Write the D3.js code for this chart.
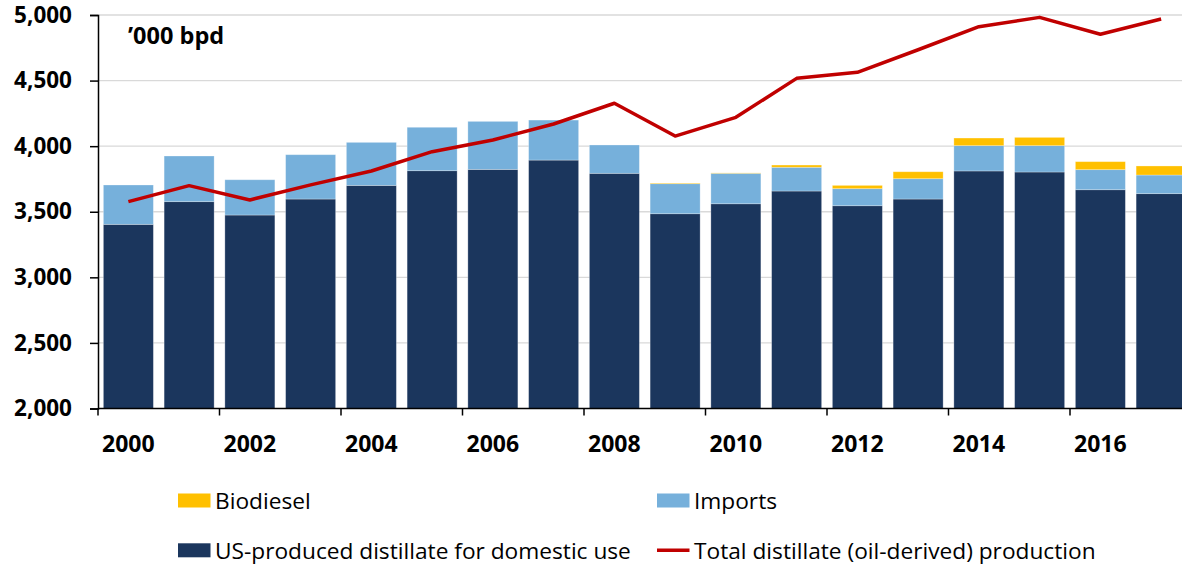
<!DOCTYPE html>
<html>
<head>
<meta charset="utf-8">
<script src="https://cdn.jsdelivr.net/npm/d3@7"></script>
<style>
  body { margin: 0; background: #fff; }
  text { font-family: "Open Sans", "Noto Sans", sans-serif; }
</style>
</head>
<body>
<div id="chart"></div>
<script>
// data, '000 bpd
const years = ["2000","2001","2002","2003","2004","2005","2006","2007","2008",
               "2009","2010","2011","2012","2013","2014","2015","2016","2017"];
const usProduced = [3404,3577,3475,3597,3701,3813,3823,3894,3793,3485,3561,3658,3546,3597,3811,3803,3668,3638];
const imports    = [300,348,269,338,328,331,366,305,216,229,232,181,130,155,193,201,153,142];
const biodiesel  = [0,0,0,0,0,0,0,0,0,5,3,17,25,53,58,63,61,69];
const totalProd  = [3577,3699,3590,3705,3811,3958,4047,4169,4327,4077,4220,4517,4563,4735,4911,4982,4853,4969];
const yTicks = [2000,2500,3000,3500,4000,4500,5000];

const series = [
  {key: "us", label: "US-produced distillate for domestic use", values: usProduced, color: "#1b365d"},
  {key: "imp", label: "Imports", values: imports, color: "#76b0db"},
  {key: "bio", label: "Biodiesel", values: biodiesel, color: "#ffc000"}
];

const width = 1182, height = 565;
const mLeft = 98, mTop = 15, mBottom = 408.5;
const plotRight = mLeft + 18 * 60.75;

const svg = d3.select("#chart").append("svg")
  .attr("width", width).attr("height", height);

const x = d3.scaleBand().domain(years).range([mLeft, plotRight])
  .paddingInner(0.177).paddingOuter(0.0885);
const y = d3.scaleLinear().domain([2000, 5000]).range([mBottom, mTop]);

// grid
svg.append("g").selectAll("line").data(yTicks.slice(1)).enter().append("line")
  .attr("x1", mLeft).attr("x2", width)
  .attr("y1", d => y(d)).attr("y2", d => y(d))
  .attr("stroke", "#d9d9d9").attr("stroke-width", 1.3);

// stacked bars
const rows = years.map((yr, i) => ({year: yr, us: usProduced[i], imp: imports[i], bio: biodiesel[i]}));
const stack = d3.stack().keys(series.map(s => s.key))(rows);
const colorOf = {};
series.forEach(s => colorOf[s.key] = s.color);

svg.append("g").selectAll("g").data(stack).enter().append("g")
  .attr("fill", d => colorOf[d.key])
  .selectAll("rect").data(d => d.filter(p => p[1] > p[0])).enter().append("rect")
  .attr("x", d => x(d.data.year))
  .attr("width", x.bandwidth())
  .attr("y", d => y(d[1]))
  .attr("height", d => y(Math.max(d[0], 2000)) - y(d[1]))
  .attr("stroke", "#ffffff").attr("stroke-opacity", 0.35).attr("stroke-width", 0.8);

// total line
const line = d3.line()
  .x((d, i) => x(years[i]) + x.bandwidth() / 2)
  .y(d => y(d));
svg.append("path").datum(totalProd)
  .attr("d", line)
  .attr("fill", "none").attr("stroke", "#c00000").attr("stroke-width", 3.5)
  .attr("stroke-linejoin", "round");

// y axis
const yAxis = svg.append("g").attr("transform", `translate(${mLeft},0)`)
  .call(d3.axisLeft(y).tickValues(yTicks).tickFormat(d3.format(",")).tickSize(8).tickPadding(18));
yAxis.select(".domain").attr("stroke", "#000").attr("stroke-width", 1.5);
yAxis.selectAll(".tick line").attr("stroke", "#000").attr("stroke-width", 1.5);
yAxis.selectAll("text").attr("font-size", 22.5).attr("font-weight", "bold").attr("fill", "#000")
  .style("font-family", '"Open Sans", sans-serif');

// x axis
const gx = svg.append("g").attr("transform", `translate(0,${mBottom})`);
gx.append("line").attr("x1", mLeft).attr("x2", width).attr("stroke", "#000").attr("stroke-width", 1.5);
const half = x.step() * x.paddingInner() / 2;
gx.selectAll(".tk").data(years.filter((d, i) => i % 2 === 0)).enter().append("line")
  .attr("class", "tk")
  .attr("x1", d => x(d) - half).attr("x2", d => x(d) - half)
  .attr("y1", 0).attr("y2", 7)
  .attr("stroke", "#000").attr("stroke-width", 1.5);
gx.selectAll(".lbl").data(years.filter((d, i) => i % 2 === 0)).enter().append("text")
  .attr("class", "lbl")
  .attr("x", d => x(d) + x.bandwidth() / 2)
  .attr("y", 43.5)
  .attr("text-anchor", "middle")
  .attr("font-size", 23).attr("font-weight", "bold")
  .text(d => d);

// unit label
svg.append("text").attr("x", 128).attr("y", 44)
  .attr("font-size", 23.5).attr("font-weight", "bold").text("\u2019000 bpd");

// legend
const legendItems = [
  {label: "Biodiesel", color: "#ffc000", type: "rect", x: 178, y: 500.5},
  {label: "Imports", color: "#76b0db", type: "rect", x: 657, y: 500.5},
  {label: "US-produced distillate for domestic use", color: "#1b365d", type: "rect", x: 178, y: 550.3},
  {label: "Total distillate (oil-derived) production", color: "#c00000", type: "line", x: 657, y: 550.3}
];
const lg = svg.append("g").selectAll("g").data(legendItems).enter().append("g")
  .attr("transform", d => `translate(${d.x},${d.y})`);
lg.filter(d => d.type === "rect").append("rect")
  .attr("x", 0).attr("y", -7).attr("width", 32.5).attr("height", 14)
  .attr("fill", d => d.color);
lg.filter(d => d.type === "line").append("line")
  .attr("x1", 0).attr("x2", 32.5).attr("y1", 0).attr("y2", 0)
  .attr("stroke", d => d.color).attr("stroke-width", 3.5);
lg.append("text").attr("x", 37).attr("y", 8.5)
  .attr("font-size", 22.7).text(d => d.label);
</script>
</body>
</html>
